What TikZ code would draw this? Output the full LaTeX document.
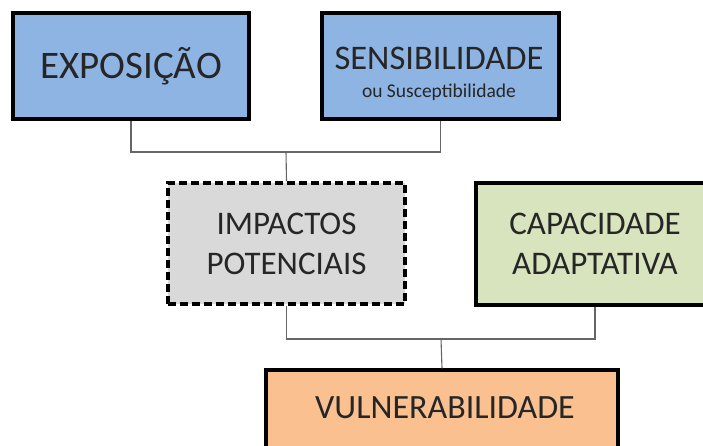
\documentclass[tikz,border=0pt]{standalone}
\usepackage{fontspec}
\setmainfont{Carlito}
\definecolor{cblue}{HTML}{8EB4E3}
\definecolor{cgray}{HTML}{D9D9D9}
\definecolor{cgreen}{HTML}{D7E4BD}
\definecolor{corange}{HTML}{FAC090}
\definecolor{cline}{HTML}{666666}
\begin{document}
\begin{tikzpicture}[x=1pt,y=-1pt,
  box/.style={draw=black, line width=3.2pt, rectangle, inner sep=0pt, align=center, text=black!85},
  lbl/.style={text=black!85, inner sep=0pt},
  conn/.style={draw=cline, line width=1.1pt}]
\clip (0,0) rectangle (703,446);
\fill[white] (0,0) rectangle (703,446);
\node[box, fill=cblue, minimum width=236, minimum height=106, font=\fontsize{39}{47}\selectfont] (exp) at (131,66) {EXPOSIÇÃO};
\node[box, fill=cblue, minimum width=237, minimum height=106] (sen) at (440.5,66) {};
\node[lbl, anchor=base, font=\fontsize{34.5}{40}\selectfont] (sen1) at (439,70) {SENSIBILIDADE};
\node[lbl, anchor=base, font=\fontsize{19.5}{22}\selectfont] (sen2) at (439,98) {ou Susceptibilidade};
\node[box, dash pattern=on 8pt off 4pt, fill=cgray, minimum width=237, minimum height=121, font=\fontsize{33}{40}\selectfont] (imp) at (286.5,243.5) {IMPACTOS\\POTENCIAIS};
\node[box, fill=cgreen, minimum width=238, minimum height=122, font=\fontsize{33}{40}\selectfont] (cap) at (595,244) {CAPACIDADE\\ADAPTATIVA};
\node[box, fill=corange, minimum width=352, minimum height=106] (vul) at (442,423) {};
\node[lbl, font=\fontsize{34}{40}\selectfont] (vt) at (445,408) {VULNERABILIDADE};
\coordinate (j1) at (286,152);
\coordinate (j2) at (441,339);
\draw[conn] (exp.south) |- (j1) -| (sen.south);
\draw[conn] (j1) -- (imp.north);
\draw[conn] (imp.south) |- (j2) -| (cap.south);
\draw[conn] (j2) -- (vul.north);
\end{tikzpicture}
\end{document}
